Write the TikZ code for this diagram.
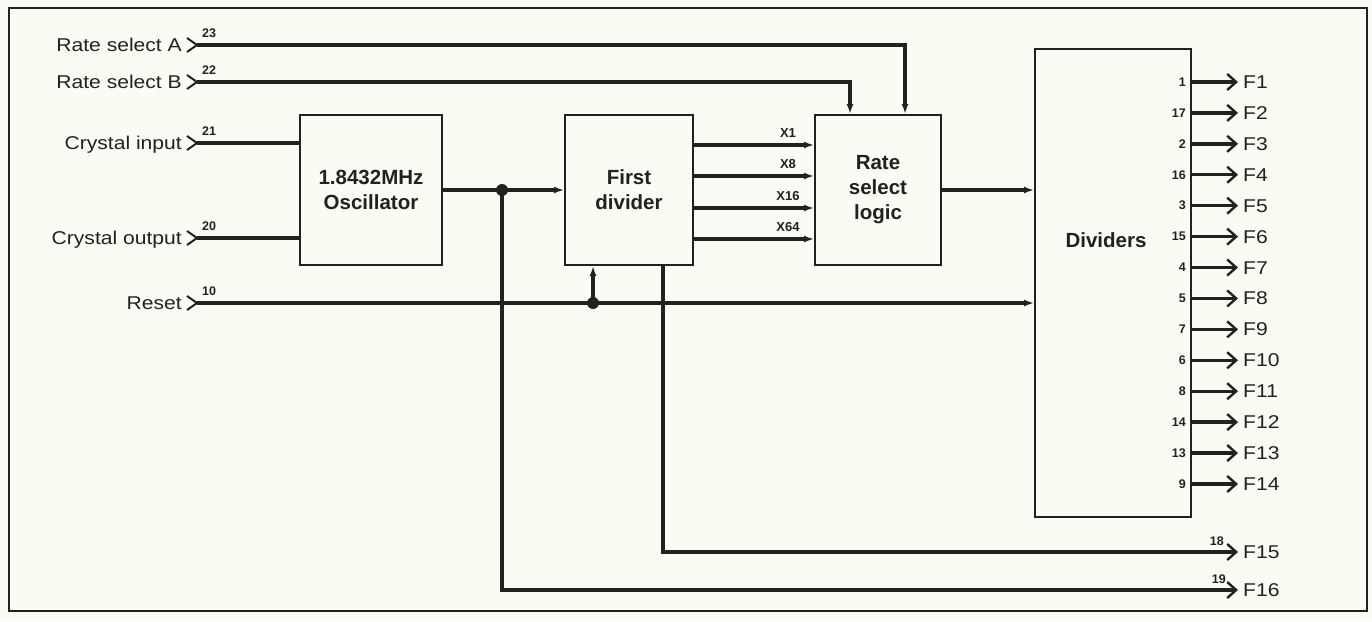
\documentclass[tikz,border=0pt]{standalone}
\usepackage{fontspec}
\setmainfont{Liberation Sans}
\newfontfamily\lblfont[FakeStretch=1.14]{Liberation Sans}
\usetikzlibrary{arrows.meta,calc}
\definecolor{ink}{RGB}{34,34,28}
\definecolor{paper}{RGB}{251,251,244}
\begin{document}
\begin{tikzpicture}[x=1pt,y=-1pt,
  box/.style={draw=ink,line width=2pt,inner sep=0pt,align=center,text=ink,
    font=\bfseries\fontsize{20.5}{25}\selectfont},
  boxlabel/.style={inner sep=0pt,text=ink,font=\bfseries\fontsize{20.5}{25}\selectfont},
  wire/.style={draw=ink,line width=3.4pt},
  tip/.style={-{Latex[length=10pt,width=7pt]}},
  barb/.style={-{Straight Barb[length=9pt,width=16pt,line width=2.4pt]}},
  lbl/.style={inner sep=0pt,text=ink,font=\lblfont\fontsize{18.5}{20}\selectfont},
  pin/.style={inner sep=0pt,text=ink,font=\bfseries\fontsize{12.5}{13}\selectfont},
  xlab/.style={inner sep=0pt,text=ink,font=\bfseries\fontsize{13}{14}\selectfont},
  chev/.style={draw=ink,line width=2pt},
  dot/.style={circle,fill=ink,inner sep=0pt,minimum size=12pt}
]
\useasboundingbox (0,0) rectangle (1372,621);
\fill[paper] (0,0) rectangle (1372,621);
\draw[ink,line width=2pt] (9,8) rectangle (1367,611);

% blocks
\node[box,minimum width=142pt,minimum height=150pt] (osc) at (371,190) {1.8432MHz\\Oscillator};
\node[box,minimum width=128pt,minimum height=150pt] (fd) at (629,190) {First\\divider};
\node[box,minimum width=126pt,minimum height=150pt] (rsl) at (878,190) {Rate\\select\\logic};
\node[box,minimum width=156pt,minimum height=468pt] (div) at (1113,283) {};
\node[boxlabel] (divt) at (1106,240) {Dividers};

% inputs
\node[lbl,anchor=base east] (tA) at (182,51.5) {Rate select A};
\node[lbl,anchor=base east] (tB) at (182,88.5) {Rate select B};
\node[lbl,anchor=base east] (tCi) at (182,149.5) {Crystal input};
\node[lbl,anchor=base east] (tCo) at (182,244.5) {Crystal output};
\node[lbl,anchor=base east] (tR) at (182,309.5) {Reset};

\coordinate (pA) at (197,45);
\coordinate (pB) at (197,82);
\coordinate (pCi) at (197,143);
\coordinate (pCo) at (197,238);
\coordinate (pR) at (197,303);
\foreach \c in {pA,pB,pCi,pCo,pR}{
  \draw[chev] ($(\c)+(-10,-7)$) -- (\c) -- ($(\c)+(-10,7)$);
}
\node[pin,anchor=base west] (n23) at (202,37) {23};
\node[pin,anchor=base west] (n22) at (202,74) {22};
\node[pin,anchor=base west] (n21) at (202,135) {21};
\node[pin,anchor=base west] (n20) at (202,230) {20};
\node[pin,anchor=base west] (n10) at (202,295) {10};

% input connectors
\draw[wire,tip] (pA) -| ([xshift=27pt]rsl.north);
\draw[wire,tip] (pB) -| ([xshift=-28pt]rsl.north);
\draw[wire] (pCi) -- (pCi -| osc.west);
\draw[wire] (pCo) -- (pCo -| osc.west);
\draw[wire,tip] (pR) -- (pR -| div.west);

% oscillator -> first divider
\node[dot] (j1) at (502,190) {};
\node[dot] (j2) at (593,303) {};
\draw[wire,tip] (osc.east) -- (osc.east -| fd.west);
\draw[wire,tip] (j2.center) -- (j2.center |- fd.south);

% first divider -> rate select logic
\foreach \y/\t in {145/X1,176/X8,208/X16,239/X64}{
  \draw[wire,tip] (fd.east |- 0,\y) -- (rsl.west |- 0,\y);
  \node[xlab,anchor=base] (x\t) at (788,\y-8) {\t};
}
\draw[wire,tip] (rsl.east) -- (rsl.east -| div.west);

% outputs
\foreach \i/\p in {1/1,2/17,3/2,4/16,5/3,6/15,7/4,8/5,9/7,10/6,11/8,12/14,13/13,14/9}{
  \pgfmathsetmacro{\yy}{82+(\i-1)*30.92}
  \coordinate (f\i) at (1238,\yy);
  \draw[wire,barb] (div.east |- f\i) -- (f\i);
  \node[lbl,anchor=base west] (fl\i) at (1243,\yy+6.5) {F\i};
  \node[pin,anchor=east] (fp\i) at (1186,\yy) {\p};
}
\coordinate (f15) at (1238,552);
\coordinate (f16) at (1238,590);
\draw[wire,barb] ([xshift=34pt]fd.south) |- (f15);
\draw[wire,barb] (j1.center) |- (f16);
\node[lbl,anchor=base west] (fl15) at (1243,558.5) {F15};
\node[lbl,anchor=base west] (fl16) at (1243,596.5) {F16};
\node[pin,anchor=base east] (fp15) at (1224,545) {18};
\node[pin,anchor=base east] (fp16) at (1226,583) {19};
\end{tikzpicture}
\end{document}
